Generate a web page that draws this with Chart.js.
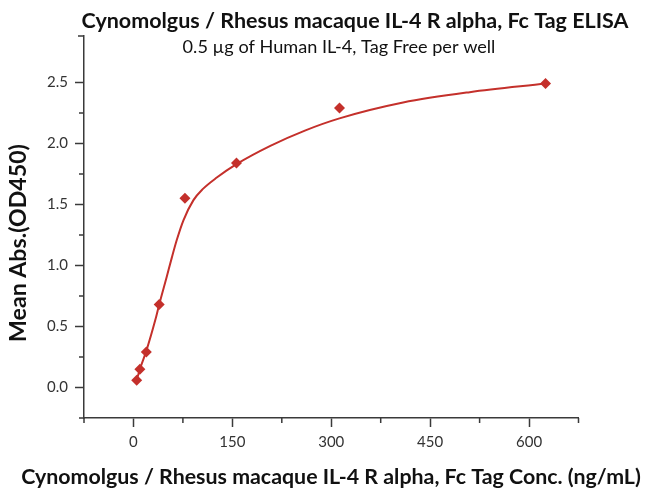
<!DOCTYPE html>
<html>
<head>
<meta charset="utf-8">
<script src="https://cdn.jsdelivr.net/npm/chart.js@4.4.1/dist/chart.umd.min.js"></script>
<style>
    html, body {
        margin: 0px;
        background-color: #ffffff;
    }
    #chartBox {
        width: 647px;
        height: 497px;
    }
</style>
</head>
<body>
<div id="chartBox">
    <canvas id="mainChart" width="647" height="497"></canvas>
</div>
<script>
    // measured points (ng/mL vs OD450)
    var conc = [4.88, 9.77, 19.53, 39.06, 78.13, 156.25, 312.5, 625];
    var meanAbs = [0.06, 0.15, 0.29, 0.68, 1.55, 1.84, 2.29, 2.49];

    // fitted curve
    var fitConc = [4.88, 9.77, 19.53, 33, 39.06, 50.6, 58, 65.8, 75.8, 91, 105, 126.4, 156.25, 207.6, 260, 312.5, 409, 510, 625];
    var fitAbs = [0.06, 0.15, 0.30, 0.55, 0.68, 0.91, 1.06, 1.21, 1.37, 1.535, 1.625, 1.72, 1.83, 1.98, 2.105, 2.205, 2.335, 2.42, 2.49];

    var xTicks = [0, 150, 300, 450, 600];
    var xMinor = [-75, 75, 225, 375, 525, 675];
    var yTicks = [0, 0.5, 1.0, 1.5, 2.0, 2.5];
    var yMinor = [-0.25, 0.25, 0.75, 1.25, 1.75, 2.25];

    var titleText = "Cynomolgus / Rhesus macaque IL-4 R alpha, Fc Tag ELISA";
    var subText = "0.5 \u00b5g of Human IL-4, Tag Free per well";
    var xTitle = "Cynomolgus / Rhesus macaque IL-4 R alpha, Fc Tag Conc. (ng/mL)";
    var yTitle = "Mean Abs.(OD450)";

    var red = '#c4302b';
    var axisColor = '#3a3a3a';

    function fitFont(ctx, text, weight, width) {
        ctx.font = weight + ' 100px Lato';
        var size = 100 * width / ctx.measureText(text).width;
        return weight + ' ' + size.toFixed(2) + 'px Lato';
    }

    var textPlugin = {
        id: 'texts',
        afterDraw: function(chart) {
            var c = chart.ctx;
            var xs = chart.scales.x, ys = chart.scales.y;
            c.save();
            // minor ticks
            c.strokeStyle = axisColor;
            c.lineWidth = 1.5;
            c.beginPath();
            xMinor.forEach(function(v) {
                var px = xs.getPixelForValue(v);
                c.moveTo(px, chart.chartArea.bottom);
                c.lineTo(px, chart.chartArea.bottom + 5);
            });
            yMinor.forEach(function(v) {
                var py = ys.getPixelForValue(v);
                c.moveTo(chart.chartArea.left - 5, py);
                c.lineTo(chart.chartArea.left, py);
            });
            c.moveTo(chart.chartArea.left - 6, chart.chartArea.top);
            c.lineTo(chart.chartArea.left, chart.chartArea.top);
            c.stroke();

            c.fillStyle = '#111111';
            c.textAlign = 'center';
            c.textBaseline = 'middle';
            c.font = fitFont(c, titleText, 'bold', 547);
            c.fillText(titleText, 355, 21);
            c.font = fitFont(c, subText, 'normal', 313);
            c.fillText(subText, 339, 47);
            c.font = fitFont(c, xTitle, 'bold', 620);
            c.fillText(xTitle, 331, 477);
            c.translate(19, 243);
            c.rotate(-Math.PI / 2);
            c.font = fitFont(c, yTitle, 'bold', 198);
            c.fillText(yTitle, 0, 0);
            c.restore();
        }
    };

    var ctx = document.getElementById('mainChart').getContext('2d');

    var data = {
        datasets: [{
            label: 'Measured',
            data: conc.map(function(v, i) { return {x: v, y: meanAbs[i]}; }),
            showLine: false,
            pointStyle: 'rectRot',
            pointRadius: 5.5,
            pointBackgroundColor: red,
            pointBorderColor: red,
            pointBorderWidth: 0
        },
        {
            label: 'Fit',
            data: fitConc.map(function(v, i) { return {x: v, y: fitAbs[i]}; }),
            showLine: true,
            pointRadius: 0,
            borderColor: red,
            borderWidth: 2,
            cubicInterpolationMode: 'monotone',
            fill: false
        }]
    };

    var options = {
        responsive: false,
        animation: false,
        layout: {
            padding: {left: 0, right: 68.5, top: 36, bottom: 0}
        },
        plugins: {
            legend: {display: false},
            tooltip: {enabled: false},
            title: {display: false}
        },
        scales: {
            x: {
                type: 'linear',
                min: -75,
                max: 675,
                afterBuildTicks: function(scale) {
                    scale.ticks = xTicks.map(function(v) { return {value: v}; });
                },
                afterFit: function(scale) { scale.height = 79; },
                grid: {
                    drawOnChartArea: false,
                    drawTicks: true,
                    tickLength: 9,
                    tickWidth: 1.5,
                    tickColor: axisColor
                },
                border: {color: axisColor, width: 1.5},
                ticks: {
                    padding: 6,
                    color: '#333333',
                    font: {family: 'Lato', size: 15},
                    maxRotation: 0,
                    callback: function(value) { return String(value); }
                }
            },
            y: {
                type: 'linear',
                min: -0.25,
                max: 2.88,
                afterBuildTicks: function(scale) {
                    scale.ticks = yTicks.map(function(v) { return {value: v}; });
                },
                afterFit: function(scale) { scale.width = 84; },
                grid: {
                    drawOnChartArea: false,
                    drawTicks: true,
                    tickLength: 9,
                    tickWidth: 1.5,
                    tickColor: axisColor
                },
                border: {color: axisColor, width: 1.5},
                ticks: {
                    padding: 7,
                    color: '#333333',
                    font: {family: 'Lato', size: 15},
                    callback: function(value) { return value.toFixed(1); }
                }
            }
        }
    };

    var config = {
        type: 'scatter',
        data: data,
        options: options,
        plugins: [textPlugin]
    };
    var chart = new Chart(ctx, config);
</script>
</body>
</html>
